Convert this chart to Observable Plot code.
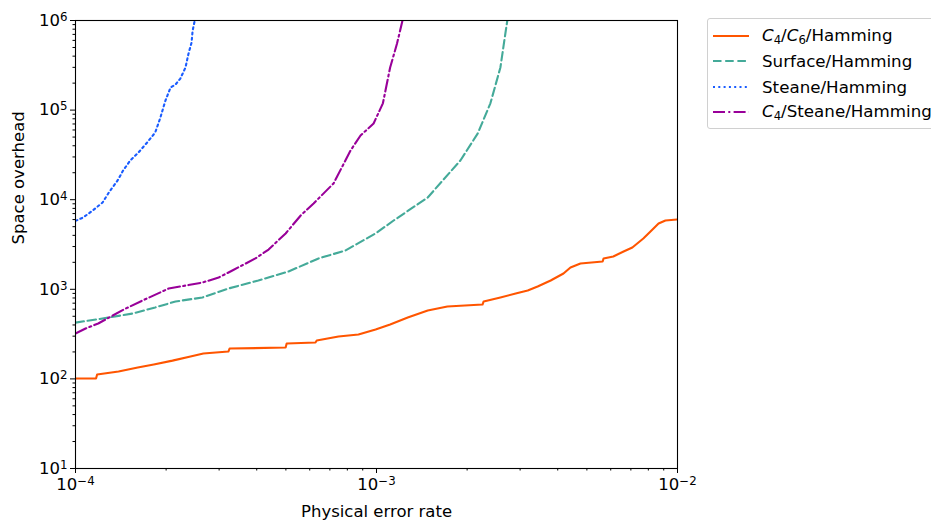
<!DOCTYPE html>
<html>
<head>
<meta charset="utf-8">
<script src="https://cdn.jsdelivr.net/npm/d3@7"></script>
<script src="https://cdn.jsdelivr.net/npm/@observablehq/plot@0.6"></script>
<style>
  html, body { margin: 0; padding: 0; background: #fff; overflow: hidden; }
  #wrap { position: relative; width: 931px; height: 522px; font-family: "DejaVu Sans", sans-serif; }
  #legend { position: absolute; left: 707px; top: 18px; width: 240px; height: 111px;
            border: 1px solid #d0d0d0; border-radius: 3px; background: #fff; box-sizing: border-box; }
  .item { position: absolute; left: 5px; height: 22px; display: flex; align-items: center; font-size: 16.7px; color: #000; white-space: nowrap; }
  .item svg { margin-right: 13px; }
  .item sub { font-size: 11.7px; vertical-align: -3px; }
</style>
</head>
<body>
<div id="wrap"><div id="chart"></div><div id="legend"></div></div>
<script>
// ---- data ----
const seriesNames = ["C4/C6/Hamming", "Surface/Hamming", "Steane/Hamming", "C4/Steane/Hamming"];

const xC4C6 = [1.00e-4, 1.17e-4, 1.18e-4, 1.39e-4, 1.61e-4, 1.82e-4, 2.10e-4, 2.41e-4, 2.66e-4, 3.22e-4, 3.25e-4, 4.99e-4, 5.03e-4, 6.27e-4, 6.33e-4, 7.48e-4, 8.71e-4, 9.93e-4, 1.11e-3, 1.27e-3, 1.48e-3, 1.72e-3, 2.25e-3, 2.27e-3, 2.58e-3, 2.90e-3, 3.18e-3, 3.43e-3, 3.79e-3, 4.18e-3, 4.41e-3, 4.76e-3, 5.64e-3, 5.68e-3, 6.12e-3, 6.62e-3, 7.08e-3, 7.70e-3, 8.26e-3, 8.65e-3, 9.12e-3, 1.00e-2];
const yC4C6 = [101, 101, 112, 121, 134, 145, 160, 178, 192, 202, 218, 224, 248, 255, 268, 297, 313, 356, 405, 484, 580, 643, 676, 731, 810, 897, 970, 1075, 1254, 1500, 1750, 1940, 2043, 2208, 2323, 2642, 2930, 3690, 4650, 5420, 5860, 6010];

const xSurface = [1.00e-4, 1.29e-4, 1.55e-4, 1.84e-4, 2.15e-4, 2.64e-4, 3.22e-4, 4.05e-4, 5.10e-4, 6.42e-4, 7.88e-4, 9.93e-4, 1.14e-3, 1.48e-3, 1.90e-3, 2.17e-3, 2.39e-3, 2.58e-3, 2.68e-3, 2.72e-3];
const ySurface = [425, 484, 537, 627, 731, 810, 1020, 1254, 1580, 2210, 2710, 4200, 5860, 1.06e4, 2.74e4, 5.49e4, 1.19e5, 2.99e5, 7.16e5, 1.0e6];

const xSteane = [1.00e-4, 1.06e-4, 1.14e-4, 1.23e-4, 1.29e-4, 1.38e-4, 1.44e-4, 1.52e-4, 1.62e-4, 1.73e-4, 1.84e-4, 1.91e-4, 1.99e-4, 2.07e-4, 2.15e-4, 2.23e-4, 2.32e-4, 2.37e-4, 2.43e-4, 2.45e-4, 2.49e-4];
const ySteane = [5800, 6320, 7570, 9300, 1.20e4, 1.64e4, 2.12e4, 2.74e4, 3.37e4, 4.35e4, 5.62e4, 8.06e4, 1.28e5, 1.79e5, 1.93e5, 2.25e5, 2.99e5, 4.18e5, 5.68e5, 7.73e5, 1.0e6];

const xC4Steane = [1.00e-4, 1.08e-4, 1.19e-4, 1.33e-4, 1.47e-4, 1.67e-4, 2.04e-4, 2.32e-4, 2.64e-4, 2.99e-4, 3.32e-4, 3.96e-4, 4.38e-4, 4.99e-4, 5.60e-4, 6.18e-4, 7.20e-4, 8.20e-4, 8.85e-4, 9.78e-4, 1.05e-3, 1.11e-3, 1.17e-3, 1.22e-3];
const yC4Steane = [321, 365, 415, 510, 611, 750, 1020, 1100, 1190, 1355, 1622, 2210, 2780, 4200, 6670, 9080, 1.52e4, 3.54e4, 5.21e4, 7.09e4, 1.19e5, 2.99e5, 5.53e5, 1.0e6];

const xMajorTicks = [1e-4, 1e-3, 1e-2];
const yMajorTicks = [1e1, 1e2, 1e3, 1e4, 1e5, 1e6];
const xLabel = "Physical error rate";
const yLabel = "Space overhead";

// ---- styles ----
const styles = [
  {name: seriesNames[0], color: "#ff5500", dash: null},
  {name: seriesNames[1], color: "#44aa99", dash: "8.5,3.7"},
  {name: seriesNames[2], color: "#1a5cff", dash: "2,3.3"},
  {name: seriesNames[3], color: "#990099", dash: "12,3.3,2,3.3"}
];
const xs = [xC4C6, xSurface, xSteane, xC4Steane];
const ys = [yC4C6, ySurface, ySteane, yC4Steane];

const fmtPow = v => "10^" + Math.round(Math.log10(v));

function minorTicks(lo, hi) {
  const out = [];
  for (let e = lo; e < hi; e++) for (let m = 2; m <= 9; m++) out.push(m * Math.pow(10, e));
  return out;
}

const lineMarks = styles.map((s, i) => Plot.line(
  xs[i].map((x, j) => ({x, y: ys[i][j]})),
  {x: "x", y: "y", stroke: s.color, strokeWidth: 2.1, strokeDasharray: s.dash, strokeLinejoin: "round", clip: true}
));

const chart = Plot.plot({
  width: 931,
  height: 522,
  marginLeft: 75,
  marginRight: 254,
  marginTop: 20,
  marginBottom: 54,
  style: {fontFamily: "DejaVu Sans, sans-serif", fontSize: "16.5px", color: "#000", background: "#fff"},
  x: {type: "log", domain: [1e-4, 1e-2]},
  y: {type: "log", domain: [1e1, 1e6]},
  marks: [
    ...lineMarks,
    Plot.frame({stroke: "#000", strokeWidth: 1.1}),
    Plot.axisX(minorTicks(-4, -2), {tickSize: 2.5, tickFormat: () => "", label: null, stroke: "#000"}),
    Plot.axisY(minorTicks(1, 6), {tickSize: 2.5, tickFormat: () => "", label: null, stroke: "#000"}),
    Plot.axisX(xMajorTicks, {tickSize: 5, tickPadding: 5, tickFormat: fmtPow, label: null, fontSize: 16.5, stroke: "#000", ariaLabel: "xmajor"}),
    Plot.axisY(yMajorTicks, {tickSize: 5, tickPadding: 3, tickFormat: fmtPow, label: null, fontSize: 16.5, stroke: "#000", ariaLabel: "ymajor"}),
    Plot.text([xLabel], {text: d => d, frameAnchor: "bottom", dy: 48, fontSize: 16.5, fill: "#000"}),
    Plot.text([yLabel], {text: d => d, frameAnchor: "left", dx: -57, rotate: -90, fontSize: 16.5, fill: "#000"})
  ]
});
document.getElementById("chart").appendChild(chart);

// render "10^n" tick labels as base + superscript
chart.querySelectorAll("text").forEach(t => {
  const s = t.textContent;
  const m = /^10\^(-?\d+)$/.exec(s);
  if (!m) return;
  const exp = m[1].replace("-", "\u2212");
  t.textContent = "";
  const NS = "http://www.w3.org/2000/svg";
  const b = document.createElementNS(NS, "tspan");
  b.textContent = "10";
  const e = document.createElementNS(NS, "tspan");
  e.textContent = exp;
  e.setAttribute("font-size", "11.8");
  e.setAttribute("dy", "-0.42em");
  t.appendChild(b);
  t.appendChild(e);
});

// ---- legend ----
const legendHtml = [
  '<i>C</i><sub>4</sub>/<i>C</i><sub>6</sub>/Hamming',
  'Surface/Hamming',
  'Steane/Hamming',
  '<i>C</i><sub>4</sub>/Steane/Hamming'
];
const legend = document.getElementById("legend");
styles.forEach((s, i) => {
  const div = document.createElement("div");
  div.className = "item";
  div.style.top = (6 + i * 25.3) + "px";
  div.innerHTML = `<svg width="36" height="6"><line x1="0" x2="36" y1="3" y2="3" stroke="${s.color}" stroke-width="2.1" ${s.dash ? `stroke-dasharray="${s.dash}"` : ""}/></svg><span>${legendHtml[i]}</span>`;
  legend.appendChild(div);
});
</script>
</body>
</html>
